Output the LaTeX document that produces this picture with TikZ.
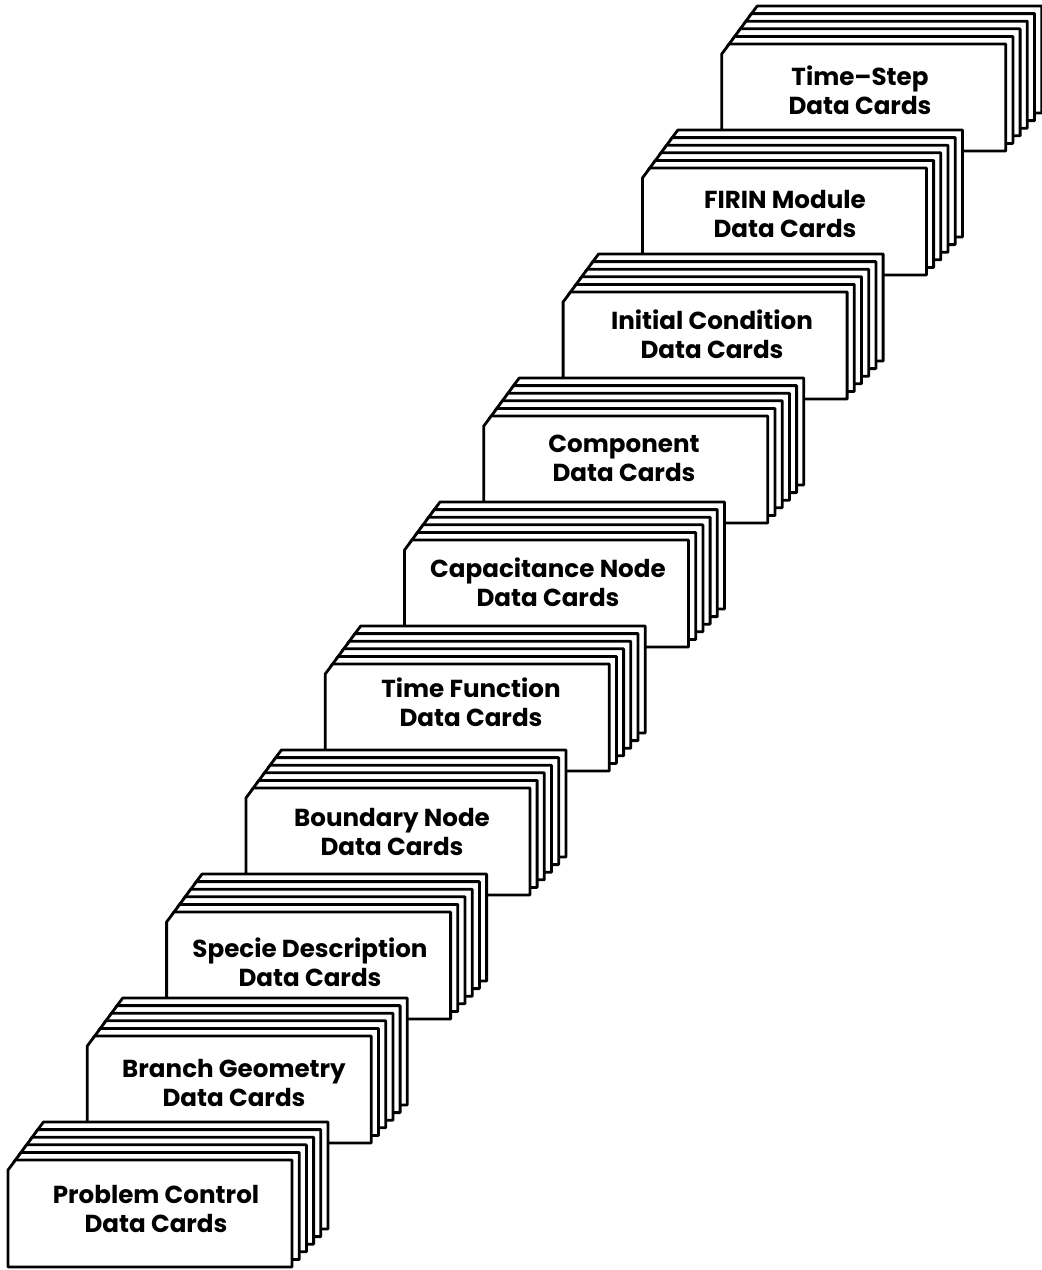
\documentclass[tikz,border=0pt]{standalone}
\usepackage{fontspec}
\setmainfont{Poppins}
\begin{document}
\begin{tikzpicture}[x=0.5pt,y=-0.5pt,
  card/.style={draw,fill=white,line width=1.4pt,line join=round},
  lbl/.style={font=\bfseries\fontsize{12.3}{14.5}\selectfont,align=center,inner sep=0pt}]
\useasboundingbox (0,0) rectangle (1042,1270);
\foreach \k/\nm/\xc/\yc/\txt in {
  9/timestep/860/90/{Time–Step\\Data Cards},
  8/firin/785/214/{FIRIN Module\\Data Cards},
  7/initial/712/334/{Initial Condition\\Data Cards},
  6/component/624/458/{Component\\Data Cards},
  5/capacitance/548/582/{Capacitance Node\\Data Cards},
  4/timefunction/471/702/{Time Function\\Data Cards},
  3/boundary/392/832/{Boundary Node\\Data Cards},
  2/specie/310/962/{Specie Description\\Data Cards},
  1/branch/234/1083/{Branch Geometry\\Data Cards},
  0/problem/156/1209/{Problem Control\\Data Cards}} {
  \pgfmathsetmacro\xo{8+79.3*\k}
  \pgfmathsetmacro\yt{1160-124*\k}
  \foreach \i in {5,4,...,0} {
    \pgfmathsetmacro\cL{\xo+5.6*\i}
    \pgfmathsetmacro\cR{\xo+284+7.2*\i}
    \pgfmathsetmacro\cT{\yt-7.6*\i}
    \pgfmathsetmacro\cB{\yt+107-7.6*\i}
    \draw[card] (\cL,\cB) -- (\cL,\cT+10) -- (\cL+7.5,\cT) -- (\cR,\cT) -- (\cR,\cB) -- cycle;
  }
  \node[lbl] (\nm) at (\xc,\yc) {\txt};
}
\end{tikzpicture}
\end{document}
